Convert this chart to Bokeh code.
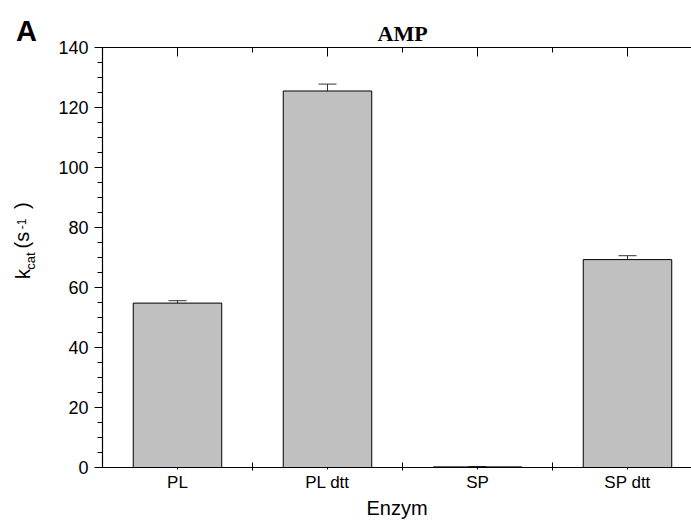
from bokeh.plotting import figure
from bokeh.models import (ColumnDataSource, Whisker, TeeHead, FixedTicker,
                          LinearAxis, Range1d, Title)
from bokeh.embed import file_html
from bokeh.resources import INLINE

categories = ["PL", "PL dtt", "SP", "SP dtt"]
kcat = [54.8, 125.5, 0.2, 69.3]
kcat_err = [0.8, 2.3, 0.1, 1.3]
y_ticks = [0, 20, 40, 60, 80, 100, 120, 140]
y_minor = list(range(0, 141, 5))

xpos = [i + 1 for i in range(len(categories))]
seps = [i + 1.5 for i in range(len(categories) - 1)]

src = ColumnDataSource(dict(
    x=xpos, top=kcat,
    upper=[v + e for v, e in zip(kcat, kcat_err)],
    cat=categories))

SANS = "Liberation Sans"
SERIF = "Liberation Serif"
NBSP = "\u00a0"

p = figure(width=691, height=527, x_range=Range1d(0.5, 4.4267),
           y_range=Range1d(0, 140), output_backend="svg", title=None,
           toolbar_location=None, min_border_left=102, min_border_right=0,
           min_border_top=47, min_border_bottom=60)
p.outline_line_color = None
p.xgrid.visible = False
p.ygrid.visible = False
p.background_fill_color = "white"

p.vbar(x="x", top="top", bottom=0, width=0.59, source=src,
       fill_color="#C0C0C0", line_color="black", line_width=1)

wh = Whisker(base="x", upper="upper", lower="top", source=src,
             upper_head=TeeHead(size=18, line_color="#333333", line_width=1),
             lower_head=None, line_color="#333333", line_width=1)
p.add_layout(wh)

# bottom axis
xa = p.xaxis[0]
xa.ticker = FixedTicker(ticks=xpos, minor_ticks=seps)
xa.major_label_overrides = {x: c for x, c in zip(xpos, categories)}
xa.major_tick_in = 0
xa.major_tick_out = 2
xa.minor_tick_in = 5
xa.minor_tick_out = 3
xa.major_label_standoff = 2
xa.major_label_text_font = SANS
xa.major_label_text_font_size = "17px"
xa.major_label_text_color = "black"
xa.axis_label = "Enzym"
xa.axis_label_text_font = SANS
xa.axis_label_text_font_size = "20px"
xa.axis_label_text_font_style = "normal"
xa.axis_label_text_color = "black"
xa.axis_label_standoff = 2
xa.axis_line_width = 1.2

# left axis
ya = p.yaxis[0]
ya.ticker = FixedTicker(ticks=y_ticks, minor_ticks=y_minor)
ya.major_tick_in = 0
ya.major_tick_out = 8
ya.minor_tick_in = 0
ya.minor_tick_out = 5
ya.major_label_standoff = 6
ya.major_label_text_font = SANS
ya.major_label_text_font_size = "18px"
ya.major_label_text_color = "black"
ya.axis_line_width = 1.2


def bare_axis(ticks, minor, **kw):
    ax = LinearAxis(ticker=FixedTicker(ticks=ticks, minor_ticks=minor))
    ax.major_tick_in = 0
    ax.major_tick_out = 0
    ax.minor_tick_in = 0
    ax.minor_tick_out = 0
    ax.major_label_standoff = 0
    for k, v in kw.items():
        setattr(ax, k, v)
    return ax


# top mirror axis: tick marks only (centres long, separators short)
p.add_layout(bare_axis([], xpos, minor_tick_in=9, axis_line_width=1.2), "above")
p.add_layout(bare_axis([], seps, minor_tick_in=5, axis_line_color=None), "above")

# title
p.add_layout(Title(text="AMP", align="left", offset=275, standoff=4,
                   text_font=SERIF, text_font_style="bold",
                   text_font_size="22px", text_color="black"), "above")

# panel letter "A" (carried by an unlined top axis, pulled down beside title)
ax_a = bare_axis([0.53], [], axis_line_color=None, major_label_standoff=-30,
                 major_label_overrides={0.53: "A" + NBSP * 20},
                 major_label_text_font=SANS, major_label_text_font_style="bold",
                 major_label_text_font_size="29px",
                 major_label_text_color="black")
p.add_layout(ax_a, "above")

# y axis title k_cat (s^-1), built from pieces on unlined left axes
lab_common = dict(axis_line_color=None, major_label_orientation="parallel",
                  major_label_text_font=SANS, major_label_text_color="black")
ax_sub = bare_axis([68.8], [], major_label_standoff=17,
                   major_label_overrides={68.8: "cat"},
                   major_label_text_font_size="13px", **lab_common)
ax_sup = bare_axis([81.2], [], major_label_standoff=-6,
                   major_label_overrides={81.2: "-1"},
                   major_label_text_font_size="12px", **lab_common)
ax_main = bare_axis([64.5, 75.8, 87.3], [], major_label_standoff=-19,
                    major_label_overrides={64.5: "k", 75.8: "(s", 87.3: ")"},
                    major_label_text_font_size="20px", **lab_common)
p.add_layout(ax_sub, "left")
p.add_layout(ax_sup, "left")
p.add_layout(ax_main, "left")

open("out.html", "w").write(file_html(p, INLINE))
